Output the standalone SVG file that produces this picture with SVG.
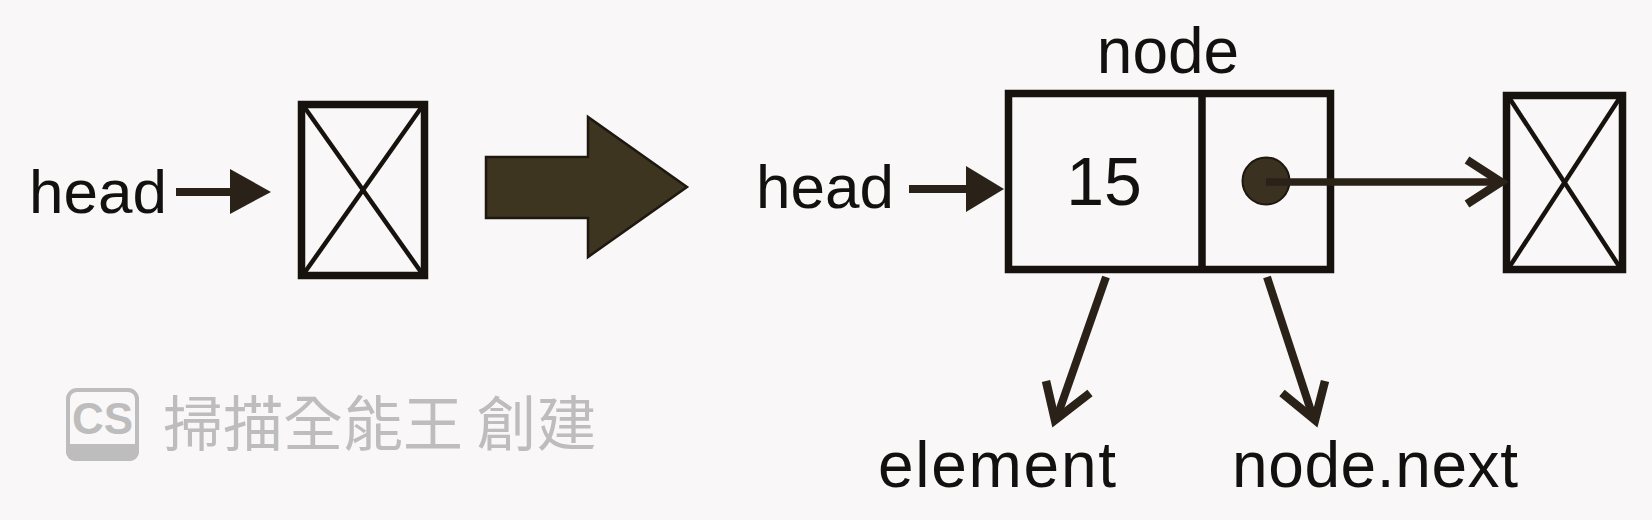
<svg xmlns="http://www.w3.org/2000/svg" width="1652" height="520" viewBox="0 0 1652 520">
<style>
.lbl{font-family:"Liberation Sans",Arial,sans-serif;font-size:64px;fill:#141010}
.box{fill:none;stroke:#17120e;stroke-width:7.5}
.diag{stroke:#17120e;stroke-width:4.5}
.shaft{stroke:#2a2218;stroke-width:8;fill:none}
.head{fill:#2a2218}
.chev{fill:none;stroke:#2a2218;stroke-width:8.5;stroke-linejoin:miter;stroke-miterlimit:10}
.wm{fill:#bdbdbd}
</style>
<rect width="1652" height="520" fill="#f9f7f7"/>
<g id="head1">
<text class="lbl" x="29" y="213" style="font-size:62px">head</text>
</g>
<g id="nullbox1">
<rect class="box" x="301.5" y="104.5" width="123" height="171"/>
<line class="diag" x1="305" y1="108" x2="421" y2="272"/>
<line class="diag" x1="421" y1="108" x2="305" y2="272"/>
</g>
<g id="bigarrow">
<polygon points="486,157 588,157 588,117 687,187 588,257 588,218 486,218" fill="#3d3520" stroke="#1e1810" stroke-width="2.5" stroke-linejoin="miter"/>
</g>
<g id="head2">
<text class="lbl" x="756" y="208" style="font-size:62px">head</text>
</g>
<g id="node">
<text class="lbl" x="1168" y="73" text-anchor="middle">node</text>
<rect class="box" x="1008.5" y="93.5" width="322" height="176"/>
<line class="box" x1="1202" y1="93.5" x2="1202" y2="269.5"/>
<text class="lbl" x="1104" y="205" text-anchor="middle" style="font-size:68px">15</text>
<circle cx="1266" cy="181" r="23.5" fill="#3a3120" stroke="#1e1810" stroke-width="2"/>
</g>
<g id="nullbox2">
<rect class="box" x="1506.5" y="95.5" width="116" height="174"/>
<line class="diag" x1="1510" y1="99" x2="1619" y2="266"/>
<line class="diag" x1="1619" y1="99" x2="1510" y2="266"/>
</g>
<g id="element">
<text class="lbl" x="878" y="487" textLength="238">element</text>
</g>
<g id="nodenext">
<text class="lbl" x="1232" y="487" textLength="286">node.next</text>
</g>
<g id="connectors">
<line class="shaft" x1="176" y1="192" x2="233" y2="192"/>
<polygon class="head" points="230,169 271,192 230,214"/>
<line class="shaft" x1="909" y1="189" x2="968" y2="189"/>
<polygon class="head" points="966,166 1004,189 966,212"/>
<line class="shaft" x1="1266" y1="182" x2="1500" y2="182" style="stroke-width:7.5"/>
<polyline class="chev" points="1467,160 1501,182 1467,204"/>
<line class="shaft" x1="1106" y1="277" x2="1057" y2="417"/>
<polyline class="chev" points="1046,381 1055,420 1090,393"/>
<line class="shaft" x1="1267" y1="277" x2="1313" y2="417"/>
<polyline class="chev" points="1282,393 1315,420 1325,381"/>
</g>
<g id="watermark">
<rect x="68" y="390" width="69" height="69" rx="9" fill="#f9f7f7" stroke="#bdbdbd" stroke-width="4"/>
<path d="M66,444 H139 V452 a9,9 0 0 1 -9,9 H75 a9,9 0 0 1 -9,-9 Z" class="wm"/>
<text x="102.5" y="434" text-anchor="middle" style="font-family:'Liberation Sans',Arial,sans-serif;font-weight:bold;font-size:44px" class="wm">CS</text>
<text x="163" y="446" style="font-family:'Noto Sans CJK TC','Noto Sans CJK SC',sans-serif;font-size:60px" class="wm">掃描全能王 創建</text>
</g>
</svg>
